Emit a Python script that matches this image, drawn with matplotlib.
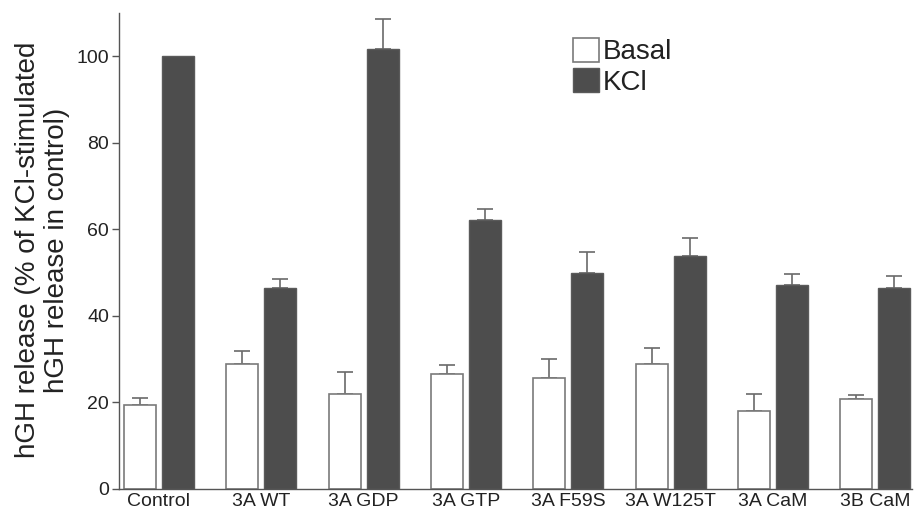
import numpy as np
import matplotlib
matplotlib.use("Agg")
import matplotlib.pyplot as plt
from matplotlib.patches import Patch

plt.rcParams['font.family'] = ['Liberation Sans', 'DejaVu Sans']

categories = ["Control", "3A WT", "3A GDP", "3A GTP", "3A F59S", "3A W125T", "3A CaM", "3B CaM"]
basal = [19.4, 28.9, 21.8, 26.6, 25.7, 28.9, 18.0, 20.8]
basal_err = [1.5, 3.0, 5.1, 1.9, 4.2, 3.7, 4.0, 0.9]
kcl = [100.0, 46.3, 101.7, 62.1, 49.9, 53.9, 47.1, 46.4]
kcl_err = [0.0, 2.1, 6.8, 2.6, 4.8, 4.0, 2.6, 2.7]

text_col = "#222222"
dark = "#4d4d4d"
err_kw = dict(ecolor="#6a6a6a", elinewidth=1.2, capsize=6, capthick=1.2, fmt="none")

fig = plt.figure(figsize=(9.15, 5.14), dpi=100)
ax = fig.add_axes([0.130, 0.049, 0.867, 0.926])

x = np.arange(len(categories))
w = 0.3125
off = 0.186


def upper_errors(xpos, vals, errs):
    vals = np.asarray(vals)
    errs = np.asarray(errs)
    keep = errs > 0
    ax.errorbar(xpos[keep], vals[keep],
                yerr=[np.zeros(keep.sum()), errs[keep]], zorder=1, **err_kw)


upper_errors(x - off, basal, basal_err)
upper_errors(x + off, kcl, kcl_err)
ax.bar(x - off, basal, width=w, color="white", edgecolor="#7a7a7a", linewidth=1.2, zorder=2)
ax.bar(x + off, kcl, width=w, color=dark, edgecolor="#5a5a5a", linewidth=1.0, zorder=2)

ax.set_xlim(-0.39, 7.36)
ax.set_ylim(0, 110)
ax.set_yticks([0, 20, 40, 60, 80, 100])
ax.set_xticks(x)
ax.set_xticklabels(categories, fontsize=14, color=text_col)
ax.tick_params(axis='x', length=0, pad=3)
ax.tick_params(axis='y', length=5, width=1, colors="#555555", labelsize=14,
               labelcolor=text_col, pad=2)

for s in ["top", "right"]:
    ax.spines[s].set_visible(False)
for s in ["left", "bottom"]:
    ax.spines[s].set_color("#555555")
    ax.spines[s].set_linewidth(1.0)

fig.text(43 / 915, 1 - 250 / 514,
         "hGH release (% of KCl-stimulated\nhGH release in control)",
         rotation=90, ha="center", va="center", fontsize=20, color=text_col,
         linespacing=1.15, multialignment="center")

handles = [Patch(facecolor="white", edgecolor="#7a7a7a", linewidth=1.2, label="Basal"),
           Patch(facecolor=dark, edgecolor="#5a5a5a", linewidth=1.0, label="KCl")]
leg = ax.legend(handles=handles, loc="upper left", bbox_to_anchor=(0.572, 0.947),
                frameon=False, fontsize=20, handlelength=0.93, handleheight=0.93,
                handletextpad=0.15, labelspacing=0.1, borderpad=0, borderaxespad=0)
for t in leg.get_texts():
    t.set_color(text_col)

fig.savefig("out.png", dpi=100)
